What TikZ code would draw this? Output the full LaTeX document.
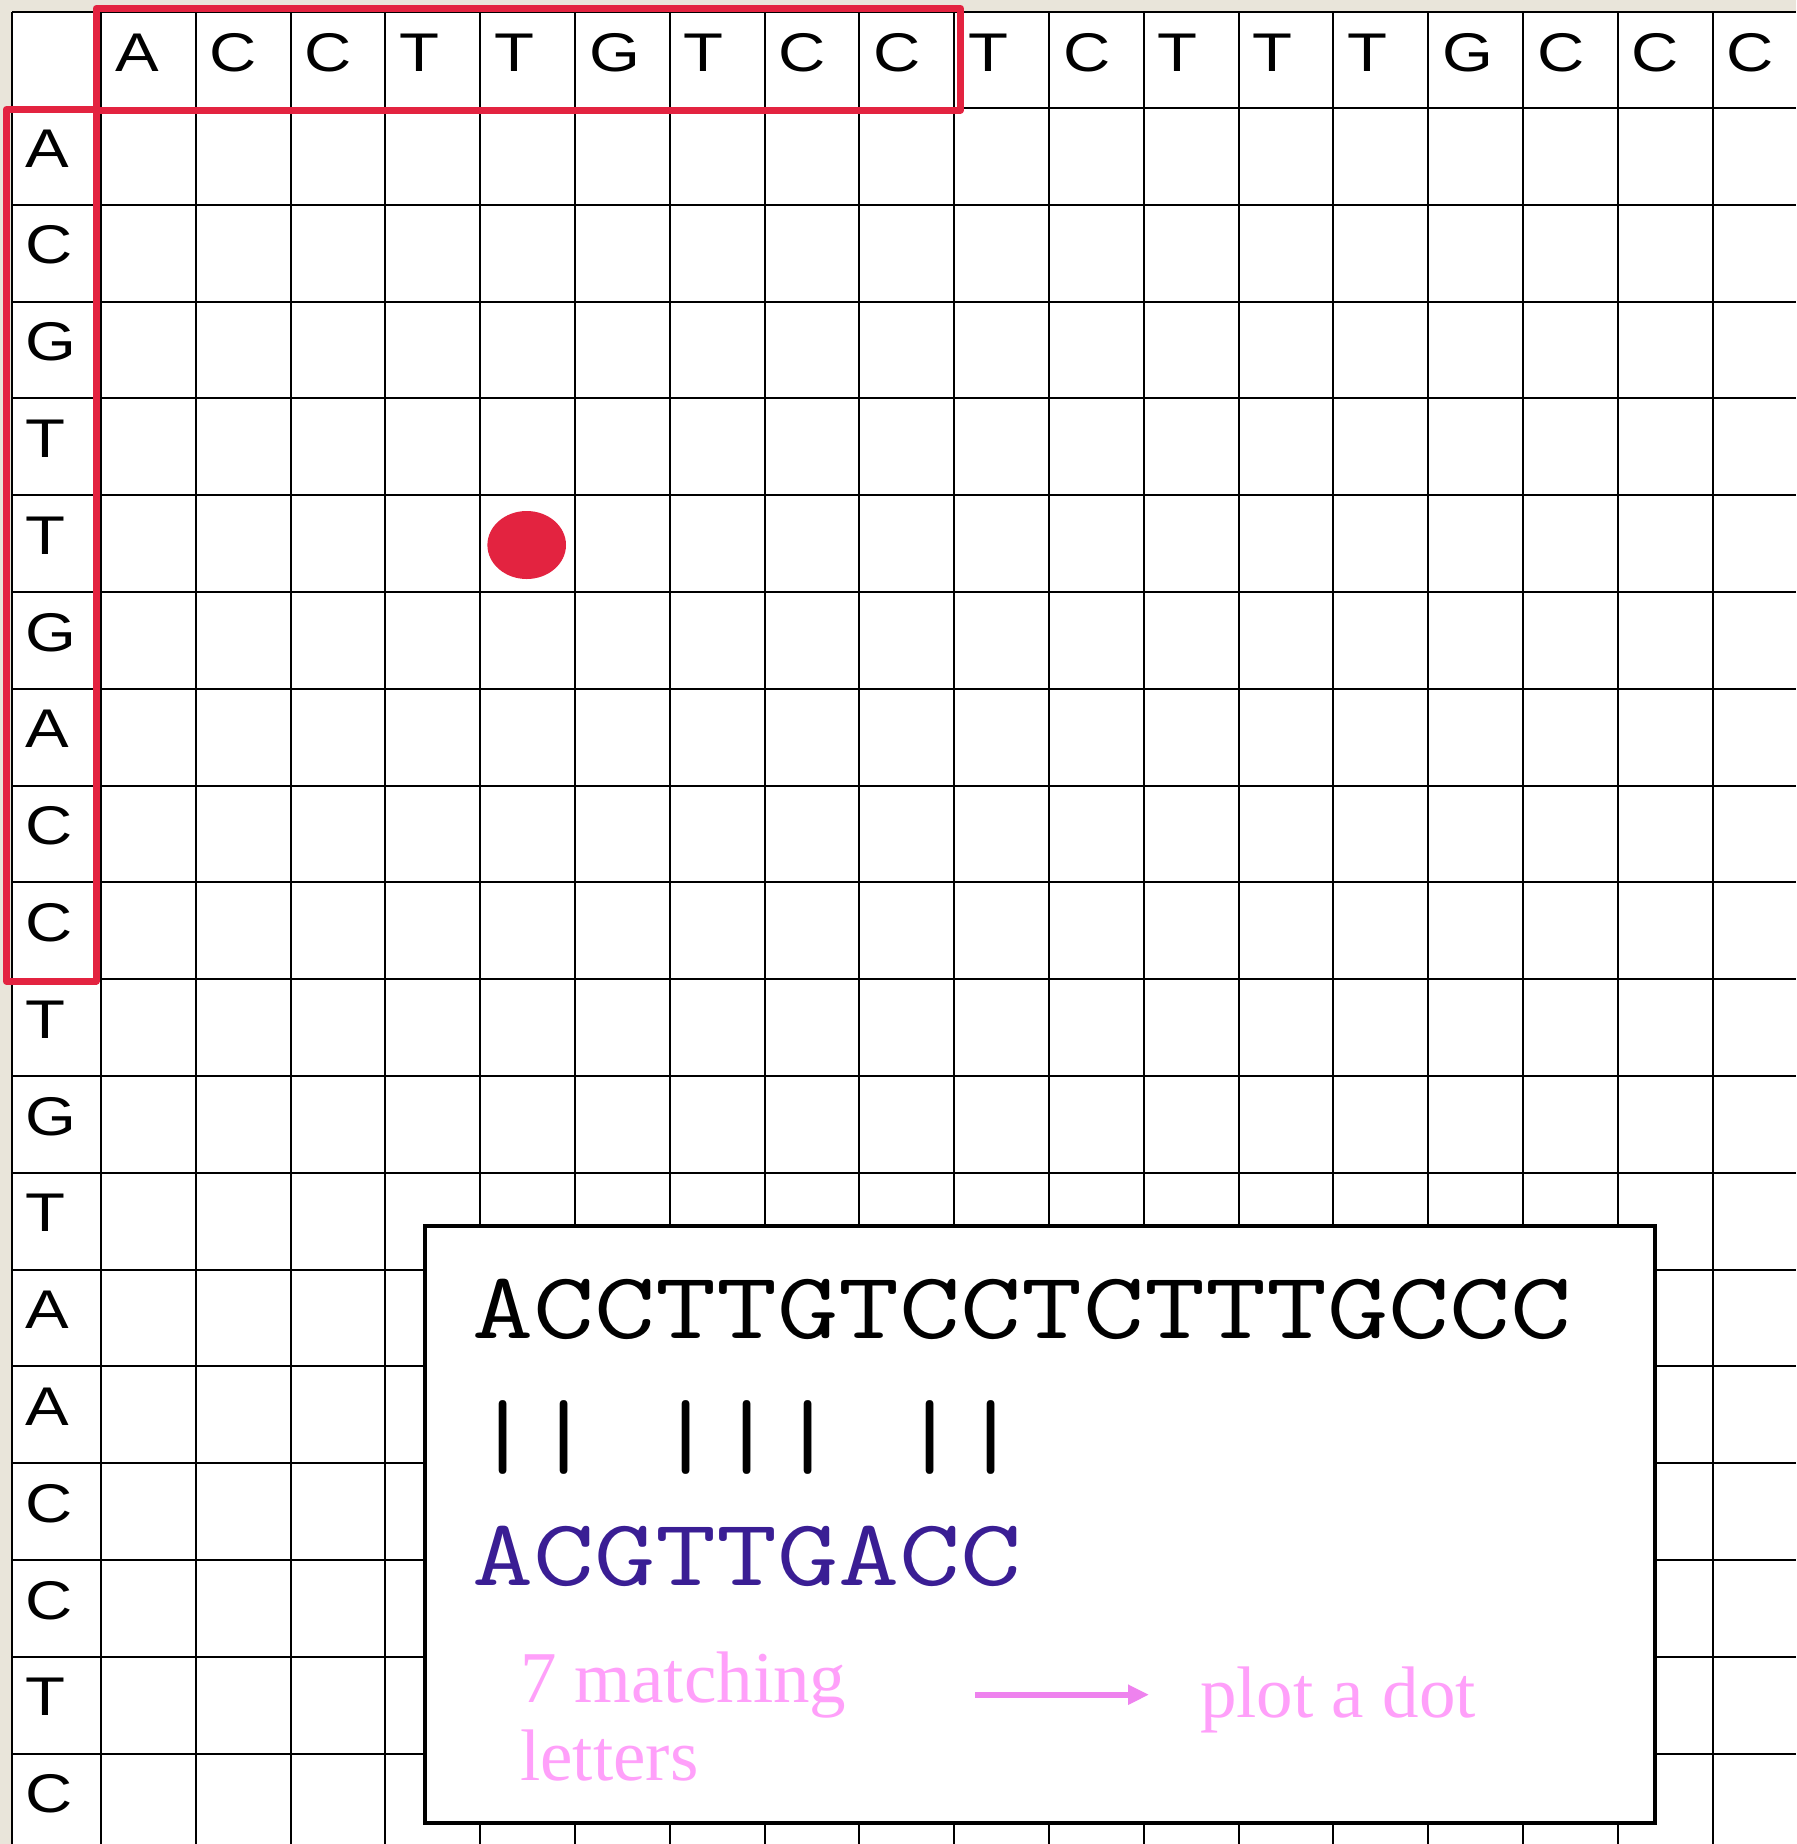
\documentclass[tikz,border=0pt]{standalone}
\usepackage{fontspec}
\newfontfamily\hdrfont{Liberation Sans}
\newfontfamily\pinkserif{Liberation Serif}
\usetikzlibrary{arrows.meta,shapes.geometric}
\definecolor{bgbeige}{RGB}{233,229,218}
\definecolor{hotred}{RGB}{227,35,64}
\definecolor{seqpurple}{RGB}{58,30,148}
\definecolor{pinktext}{RGB}{255,160,250}
\definecolor{arrowpink}{RGB}{238,130,238}
\newcommand\hdrtxt[1]{\scalebox{1.2}[1]{\hdrfont\fontsize{27.25}{30}\selectfont #1}}
\newcommand\monotxt[1]{\scalebox{1.249}[1]{\ttfamily\fontsize{47.5}{50}\selectfont #1}}
\tikzset{
  gridline/.style={line width=1pt, black},
  redbox/.style={draw=hotred, line width=3.5pt, line join=round},
  hdrletter/.style={anchor=base west, inner sep=0pt, outer sep=0pt},
  seqtext/.style={anchor=base west, inner sep=0pt, outer sep=0pt},
  pinklabel/.style={anchor=base west, inner sep=0pt, outer sep=0pt, text=pinktext,
    font=\pinkserif\fontsize{36.5}{39}\selectfont, align=left},
  insetbox/.style={draw=black, line width=2pt, fill=white, inner sep=0pt, anchor=north west},
  matcharrow/.style={draw=arrowpink, line width=3pt, -{Triangle[length=10.5pt,width=9.5pt]}},
}
\begin{document}
\begin{tikzpicture}[x=0.5pt,y=-0.5pt]
\useasboundingbox (0,0) rectangle (1796,1844);
% background
\fill[bgbeige] (0,0) rectangle (1796,1844);
\fill[white] (12,12) rectangle (1796,1844);
% grid
\draw[gridline] (12,12) -- (12,1844);
\draw[gridline] (12,12) -- (1796,12);
\foreach \i in {1,...,18} {
  \draw[gridline] ({101+(\i-1)*94.8},12) -- ({101+(\i-1)*94.8},1844);
  \draw[gridline] (12,{108+(\i-1)*96.8}) -- (1796,{108+(\i-1)*96.8});
}
% red highlight boxes
\draw[redbox] (96,8.5) rectangle (960.5,110);
\draw[redbox] (6.4,109.5) rectangle (96,981);
% dot
\node[ellipse, fill=hotred, inner sep=0pt, minimum width=39.3pt, minimum height=34pt] (dot) at (526.7,545) {};
% header letters
\foreach \L [count=\i] in {A,C,C,T,T,G,T,C,C,T,C,T,T,T,G,C,C,C}
  \node[hdrletter] (top\i) at ({101+(\i-1)*94.8+14},71) {\hdrtxt{\L}};
\foreach \L [count=\i] in {A,C,G,T,T,G,A,C,C,T,G,T,A,A,C,C,T,C}
  \node[hdrletter] (side\i) at (25.5,{108+(\i-1)*96.8+59}) {\hdrtxt{\L}};
% inset
\node[insetbox, minimum width=614.75pt, minimum height=298.5pt] (inset) at (423,1223.5) {};
\node[seqtext] (seqa) at (472,1338) {\monotxt{ACCTTGTCCTCTTTGCCC}};
\node[seqtext] (bars) at (472,1466) {\monotxt{||\ |||\ ||}};
\node[seqtext, text=seqpurple] (seqb) at (472,1585) {\monotxt{ACGTTGACC}};
\node[pinklabel] (match) at (520,1780) {7 matching\\letters};
\node[pinklabel] (plot) at (1200,1717) {plot a dot};
\coordinate (arrS) at (975,1694.7);
\coordinate (arrE) at (1149,1694.7);
\draw[matcharrow] (arrS) -- (arrE);
\end{tikzpicture}
\end{document}
